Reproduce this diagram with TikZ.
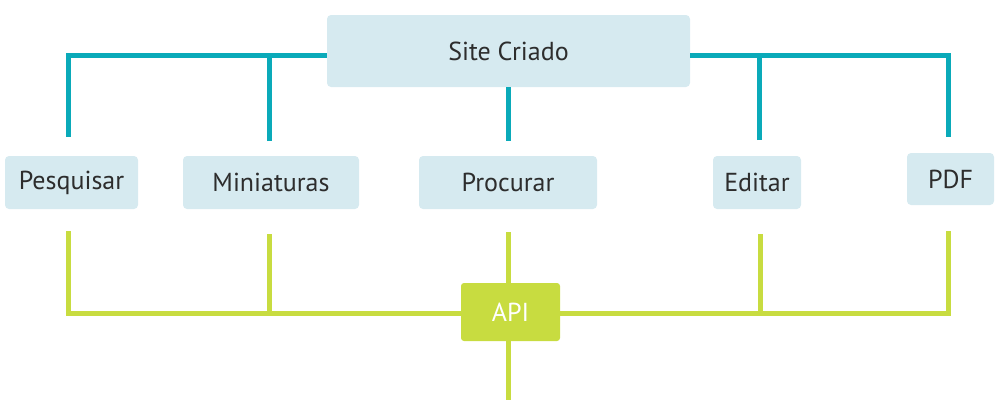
\documentclass[tikz,border=0pt]{standalone}
\usepackage{fontspec}
\setmainfont{PT Sans}
\definecolor{tealline}{RGB}{10,170,185}
\definecolor{limeline}{RGB}{200,220,64}
\definecolor{boxfill}{RGB}{214,234,240}
\definecolor{txtgray}{RGB}{45,45,45}
\begin{document}
\begin{tikzpicture}[x=1pt,y=-1pt,
  box/.style={fill=boxfill,rounded corners=4pt,inner sep=0pt,text=txtgray,
    font=\fontsize{26}{30}\selectfont},
  apibox/.style={fill=limeline,rounded corners=3pt,inner sep=0pt,text=white,
    font=\fontsize{26}{30}\selectfont},
  tl/.style={draw=tealline,line width=5pt},
  gl/.style={draw=limeline,line width=5pt}]
\useasboundingbox (0,0) rectangle (1000,400);
% nodes
\node[box,minimum width=363pt,minimum height=72pt] (site) at (508.5,51) {Site Criado};
\node[box,minimum width=133pt,minimum height=53pt] (pes) at (71.5,182.5) {Pesquisar};
\node[box,minimum width=176pt,minimum height=53pt] (min) at (271,182.5) {Miniaturas};
\node[box,minimum width=178pt,minimum height=53pt] (pro) at (508,182.5) {Procurar};
\node[box,minimum width=88pt,minimum height=53pt] (edi) at (757,182.5) {Editar};
\node[box,minimum width=87pt,minimum height=52pt] (pdf) at (950.5,179) {PDF};
\node[apibox,minimum width=99pt,minimum height=58pt] (api) at (510.5,312) {API};
% coordinates
\coordinate (tbar) at (0,55);
\coordinate (tP) at (68,137);
\coordinate (tM) at (269,141);
\coordinate (tPr) at (508.5,141);
\coordinate (tE) at (759,140);
\coordinate (tPDF) at (948,137);
\coordinate (gbar) at (0,313);
\coordinate (gP) at (68,231);
\coordinate (gM) at (269,234);
\coordinate (gPr) at (508,232);
\coordinate (gE) at (760,234);
\coordinate (gPDF) at (948,231);
\coordinate (gB) at (508,400);
% teal connectors
\draw[tl] (site.west |- tbar) -| (tP);
\draw[tl] (tM) -- (tM |- tbar);
\draw[tl] (site.south) -- (tPr);
\draw[tl] (site.east |- tbar) -| (tPDF);
\draw[tl] (tE) -- (tE |- tbar);
% green connectors
\draw[gl] (gP) |- (api.west |- gbar);
\draw[gl] (gM) -- (gM |- gbar);
\draw[gl] (gPr) -- (gPr |- api.north);
\draw[gl] (gPr |- api.south) -- (gB);
\draw[gl] (api.east |- gbar) -| (gPDF);
\draw[gl] (gE) -- (gE |- gbar);
\end{tikzpicture}
\end{document}
